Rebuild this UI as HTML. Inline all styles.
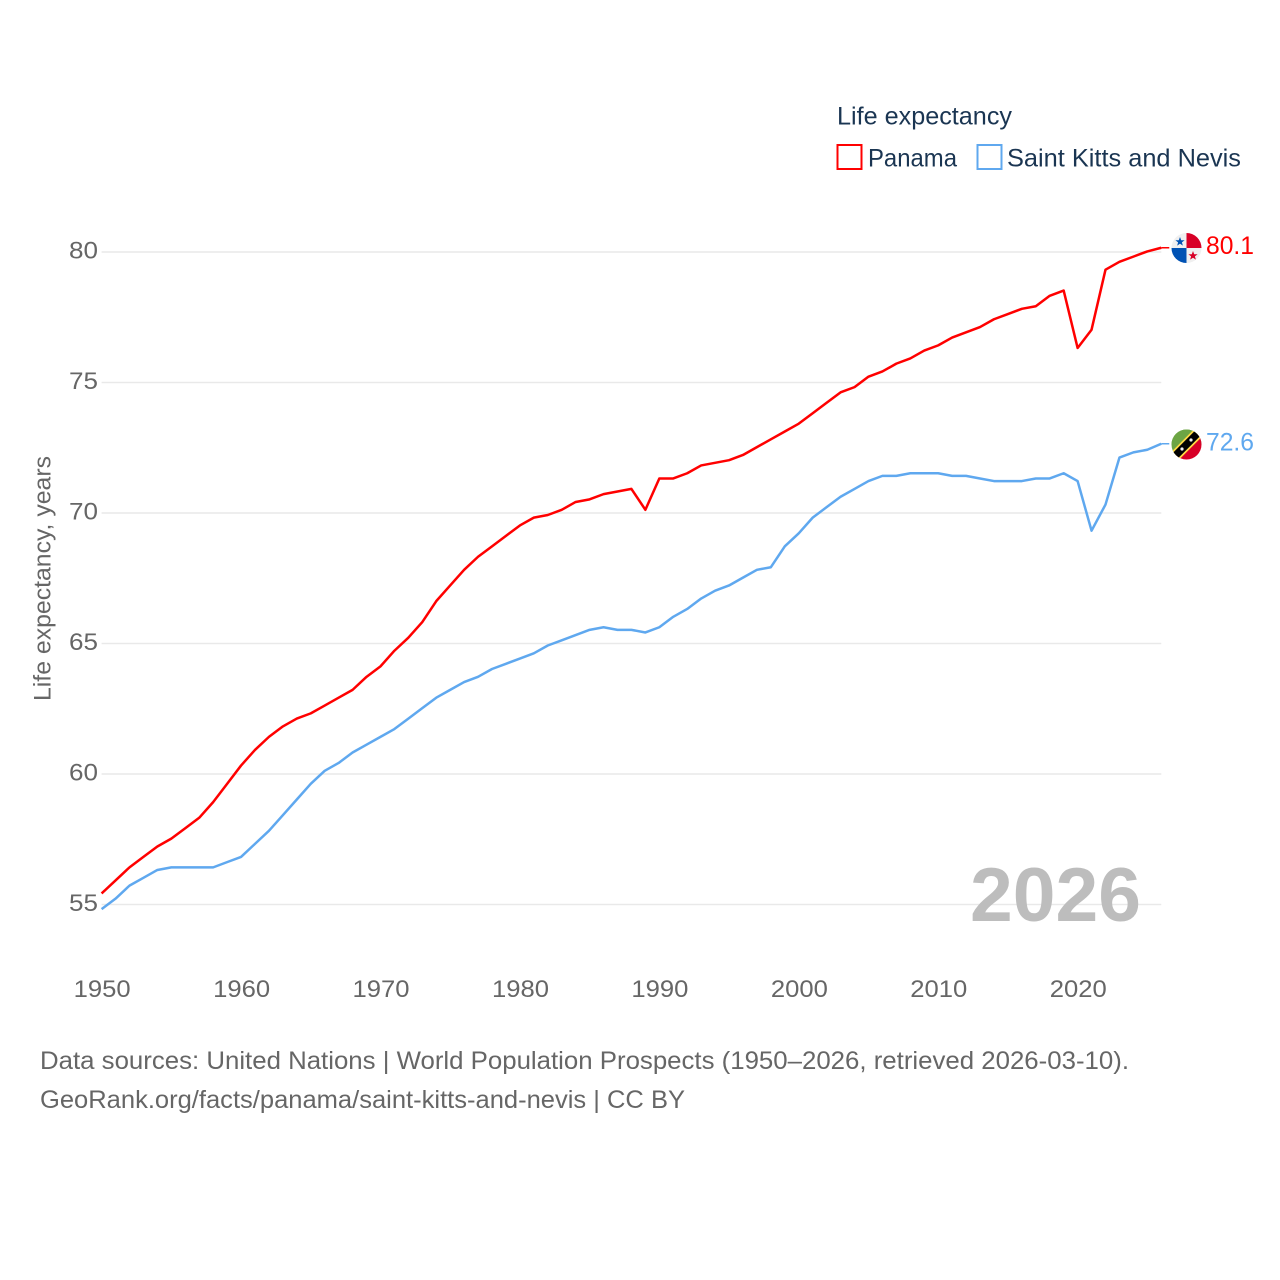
<!DOCTYPE html>
<html lang="en">
<head>
<meta charset="utf-8">
<title>Life expectancy: Panama and Saint Kitts and Nevis</title>
<style>
html,body{margin:0;padding:0;background:#fff}
svg{display:block}
text{font-family:"Liberation Sans",sans-serif}
</style>
</head>
<body>
<svg id="chart" xmlns="http://www.w3.org/2000/svg" width="1280" height="1280" viewBox="0 0 1280 1280">
  <defs>
    <clipPath id="flag-clip-pa"><circle cx="1186.5" cy="248" r="15"/></clipPath>
    <clipPath id="flag-clip-kn"><circle cx="1186.5" cy="444.5" r="15"/></clipPath>
  </defs>
  <rect width="1280" height="1280" fill="#fff"/>

  <g>
    <text x="837" y="124.5" font-size="25" fill="#1a3552" textLength="175" lengthAdjust="spacingAndGlyphs">Life expectancy</text>
    <rect x="837.5" y="145" width="24" height="24" fill="#fff" stroke="#ff0000" stroke-width="2"/>
    <text x="868" y="166.5" font-size="25" fill="#1a3552" textLength="89" lengthAdjust="spacingAndGlyphs">Panama</text>
    <rect x="977.5" y="145" width="24" height="24" fill="#fff" stroke="#5fa8ef" stroke-width="2"/>
    <text x="1007" y="166.5" font-size="25" fill="#1a3552" textLength="234" lengthAdjust="spacingAndGlyphs">Saint Kitts and Nevis</text>
  </g>

  <g id="grid"></g>
  <g id="y-ticks"></g>
  <g id="x-ticks"></g>

  <text transform="translate(50.5,701) rotate(-90)" font-size="24.5" fill="#666" textLength="245" lengthAdjust="spacingAndGlyphs">Life expectancy, years</text>

  <text x="970" y="921" font-size="76" font-weight="bold" fill="#bdbdbd" textLength="171" lengthAdjust="spacingAndGlyphs">2026</text>

  <g id="series"></g>

  <g clip-path="url(#flag-clip-pa)">
    <rect x="1171" y="233" width="31" height="31" fill="#f0f0f0"/>
    <rect x="1186.5" y="233" width="16" height="15" fill="#d80027"/>
    <rect x="1171" y="248" width="15.5" height="16" fill="#0052b4"/>
    <polygon points="1180,237 1181.2,240.2 1184.6,240.3 1181.9,242.4 1182.9,245.6 1180,243.7 1177.1,245.6 1178.1,242.4 1175.4,240.3 1178.8,240.2" fill="#0052b4"/>
    <polygon points="1193,251 1194.2,254.2 1197.6,254.3 1194.9,256.4 1195.9,259.6 1193,257.7 1190.1,259.6 1191.1,256.4 1188.4,254.3 1191.8,254.2" fill="#d80027"/>
  </g>
  <g clip-path="url(#flag-clip-kn)">
    <rect x="1171" y="429" width="31" height="16" fill="#6da544"/>
    <polygon points="1171,429 1202,429 1171,460" fill="#6da544"/>
    <polygon points="1202,429 1202,460 1171,460" fill="#d80027"/>
    <line x1="1172" y1="459" x2="1201" y2="430" stroke="#ffda44" stroke-width="11"/>
    <line x1="1172" y1="459" x2="1201" y2="430" stroke="#000" stroke-width="7.5"/>
    <circle cx="1182" cy="449" r="1.6" fill="#f0f0f0"/>
    <circle cx="1191" cy="440" r="1.6" fill="#f0f0f0"/>
  </g>

  <g>
    <text x="40" y="1069" font-size="25" fill="#666" textLength="1089" lengthAdjust="spacingAndGlyphs">Data sources: United Nations | World Population Prospects (1950–2026, retrieved 2026-03-10).</text>
    <text x="40" y="1108" font-size="25" fill="#666" textLength="645" lengthAdjust="spacingAndGlyphs">GeoRank.org/facts/panama/saint-kitts-and-nevis | CC BY</text>
  </g>
</svg>
<script>
const startYear = 1950;
const panamaValues = [55.4,55.9,56.4,56.8,57.2,57.5,57.9,58.3,58.9,59.6,60.3,60.9,61.4,61.8,62.1,62.3,62.6,62.9,63.2,63.7,64.1,64.7,65.2,65.8,66.6,67.2,67.8,68.3,68.7,69.1,69.5,69.8,69.9,70.1,70.4,70.5,70.7,70.8,70.9,70.1,71.3,71.3,71.5,71.8,71.9,72.0,72.2,72.5,72.8,73.1,73.4,73.8,74.2,74.6,74.8,75.2,75.4,75.7,75.9,76.2,76.4,76.7,76.9,77.1,77.4,77.6,77.8,77.9,78.3,78.5,76.3,77.0,79.3,79.6,79.8,80.0,80.14];
const kittsValues = [54.8,55.2,55.7,56.0,56.3,56.4,56.4,56.4,56.4,56.6,56.8,57.3,57.8,58.4,59.0,59.6,60.1,60.4,60.8,61.1,61.4,61.7,62.1,62.5,62.9,63.2,63.5,63.7,64.0,64.2,64.4,64.6,64.9,65.1,65.3,65.5,65.6,65.5,65.5,65.4,65.6,66.0,66.3,66.7,67.0,67.2,67.5,67.8,67.9,68.7,69.2,69.8,70.2,70.6,70.9,71.2,71.4,71.4,71.5,71.5,71.5,71.4,71.4,71.3,71.2,71.2,71.2,71.3,71.3,71.5,71.2,69.3,70.3,72.1,72.3,72.4,72.63];
const yTickValues = [55,60,65,70,75,80];
const xTickYears = [1950,1960,1970,1980,1990,2000,2010,2020];
const panamaLabel = "80.1";
const kittsLabel = "72.6";

const NS = "http://www.w3.org/2000/svg";
const xScale = function (year) { return 101.6 + (year - 1950) * 13.943; };
const yScale = function (value) { return 904.5 - (value - 55) * 26.1; };
const seriesYNudge = -0.6;

function make(parent, tag, attrs, content) {
  const el = document.createElementNS(NS, tag);
  for (const key in attrs) { el.setAttribute(key, attrs[key]); }
  if (content !== undefined) { el.textContent = content; }
  parent.appendChild(el);
  return el;
}

const gridGroup = document.getElementById("grid");
const yTickGroup = document.getElementById("y-ticks");
const xTickGroup = document.getElementById("x-ticks");
const seriesGroup = document.getElementById("series");

yTickValues.forEach(function (v) {
  const line = make(gridGroup, "line", { x1: xScale(1950), x2: xScale(2026), y1: yScale(v), y2: yScale(v), stroke: "#e9e9e9", "stroke-width": 1.4 });
  
  
  const label = make(yTickGroup, "text", { x: 98, y: yScale(v) + 6.5, "text-anchor": "end", "font-size": 24.5, fill: "#666", textLength: 29, lengthAdjust: "spacingAndGlyphs" }, String(v));
  
  
});

xTickYears.forEach(function (y) {
  const label = make(xTickGroup, "text", { x: xScale(y) + 0.6, y: 997, "text-anchor": "middle", "font-size": 24.5, fill: "#666", textLength: 57, lengthAdjust: "spacingAndGlyphs" }, String(y));
  
  
});

function drawSeries(values, color, labelText, labelBaselineOffset) {
  const pts = values.map(function (v, i) { return xScale(startYear + i).toFixed(2) + "," + (yScale(v) + seriesYNudge).toFixed(2); }).join(" ");
  const path = make(seriesGroup, "polyline", { points: pts, fill: "none", stroke: color, "stroke-width": 2.5, "stroke-linejoin": "round" });
  
  
  const lastY = yScale(values[values.length - 1]) + seriesYNudge;
  const lastX = xScale(startYear + values.length - 1);
  const connector = make(seriesGroup, "line", { x1: lastX, x2: lastX + 8, y1: lastY, y2: lastY, stroke: color, "stroke-width": 1.5 });
  
  
  const endLabel = make(seriesGroup, "text", { x: 1206, y: lastY + labelBaselineOffset, "font-size": 25, fill: color, textLength: 48, lengthAdjust: "spacingAndGlyphs" }, labelText);
  
  
}

drawSeries(panamaValues, "#ff0000", panamaLabel, 6.5);
drawSeries(kittsValues, "#5fa8ef", kittsLabel, 6.5);
</script>
</body>
</html>
